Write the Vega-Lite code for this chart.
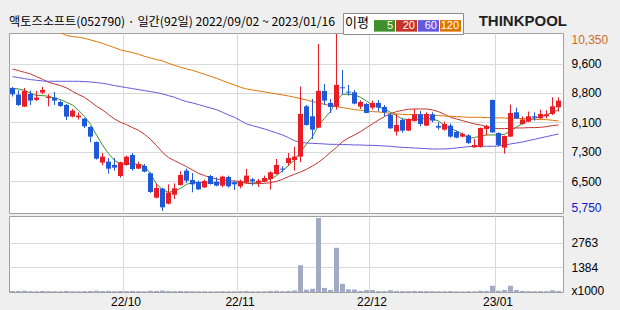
{
"$schema": "https://vega.github.io/schema/vega-lite/v6.json",
"background": "#efefef",
"padding": {"left": 8, "top": 12, "right": 12, "bottom": 4},
"spacing": 0,
"title": {"text": "THINKPOOL", "anchor": "end", "frame": "group", "font": "Liberation Sans", "fontSize": 15, "fontWeight": "bold", "color": "#1f1f1f", "offset": -16, "dx": 4},
"config": {
  "view": {"fill": "#ffffff", "stroke": "#a0a0a0"},
  "axis": {"labelFont": "Liberation Sans", "labelFontSize": 12, "labelColor": "#000000", "domain": false, "ticks": false, "gridColor": "#d9d9d9", "gridOpacity": 1, "title": null, "labelOverlap": false, "labelFlush": false, "labelBound": false, "labelSeparation": 0}
},
"resolve": {"scale": {"x": "independent", "y": "independent"}},
"datasets": {"d": [
{"d":"2022-09-02","o":8948,"h":8974,"l":8723,"c":8783,"vol":60,"ma5":8939,"ma20":9442,"ma60":9243},
{"d":"2022-09-05","o":8775,"h":8887,"l":8480,"c":8506,"vol":55,"ma5":8922,"ma20":9399,"ma60":9217},
{"d":"2022-09-06","o":8463,"h":8948,"l":8455,"c":8870,"vol":70,"ma5":8887,"ma20":9355,"ma60":9191},
{"d":"2022-09-07","o":8792,"h":8879,"l":8506,"c":8619,"vol":50,"ma5":8818,"ma20":9312,"ma60":9165},
{"d":"2022-09-08","o":8636,"h":8870,"l":8610,"c":8697,"vol":45,"ma5":8749,"ma20":9243,"ma60":9147},
{"d":"2022-09-13","o":8827,"h":8974,"l":8783,"c":8896,"vol":55,"ma5":8749,"ma20":9173,"ma60":9130},
{"d":"2022-09-14","o":8688,"h":8783,"l":8471,"c":8714,"vol":50,"ma5":8731,"ma20":9095,"ma60":9121},
{"d":"2022-09-15","o":8697,"h":8844,"l":8506,"c":8619,"vol":45,"ma5":8688,"ma20":9052,"ma60":9121},
{"d":"2022-09-16","o":8584,"h":8627,"l":8454,"c":8480,"vol":40,"ma5":8645,"ma20":9009,"ma60":9121,"ma120":10385},
{"d":"2022-09-19","o":8506,"h":8532,"l":8116,"c":8203,"vol":60,"ma5":8575,"ma20":8948,"ma60":9121,"ma120":10309},
{"d":"2022-09-20","o":8203,"h":8402,"l":8185,"c":8359,"vol":45,"ma5":8506,"ma20":8861,"ma60":9121,"ma120":10283},
{"d":"2022-09-21","o":8185,"h":8315,"l":8125,"c":8229,"vol":40,"ma5":8367,"ma20":8775,"ma60":9121,"ma120":10265},
{"d":"2022-09-22","o":8151,"h":8168,"l":7908,"c":7951,"vol":50,"ma5":8211,"ma20":8705,"ma60":9113,"ma120":10239},
{"d":"2022-09-23","o":7934,"h":7951,"l":7535,"c":7683,"vol":60,"ma5":8003,"ma20":8593,"ma60":9104,"ma120":10196},
{"d":"2022-09-26","o":7544,"h":7561,"l":7085,"c":7111,"vol":75,"ma5":7726,"ma20":8471,"ma60":9087,"ma120":10153},
{"d":"2022-09-27","o":7007,"h":7258,"l":6937,"c":7163,"vol":55,"ma5":7466,"ma20":8376,"ma60":9069,"ma120":10109},
{"d":"2022-09-28","o":7033,"h":7128,"l":6721,"c":6850,"vol":60,"ma5":7241,"ma20":8255,"ma60":9043,"ma120":10049},
{"d":"2022-09-29","o":6946,"h":7128,"l":6799,"c":6877,"vol":45,"ma5":7067,"ma20":8142,"ma60":9009,"ma120":9997},
{"d":"2022-09-30","o":6660,"h":7033,"l":6617,"c":7015,"vol":55,"ma5":6972,"ma20":8055,"ma60":8983,"ma120":9936},
{"d":"2022-10-04","o":6946,"h":7189,"l":6928,"c":7163,"vol":50,"ma5":6980,"ma20":7995,"ma60":8957,"ma120":9901},
{"d":"2022-10-05","o":7206,"h":7258,"l":6799,"c":6842,"vol":60,"ma5":6972,"ma20":7917,"ma60":8931,"ma120":9867},
{"d":"2022-10-06","o":6851,"h":7033,"l":6842,"c":6963,"vol":45,"ma5":6963,"ma20":7847,"ma60":8905,"ma120":9823},
{"d":"2022-10-07","o":6920,"h":6972,"l":6755,"c":6773,"vol":40,"ma5":6929,"ma20":7743,"ma60":8879,"ma120":9771},
{"d":"2022-10-11","o":6729,"h":6755,"l":6218,"c":6244,"vol":70,"ma5":6712,"ma20":7613,"ma60":8853,"ma120":9728},
{"d":"2022-10-12","o":6096,"h":6452,"l":6079,"c":6348,"vol":60,"ma5":6452,"ma20":7449,"ma60":8827,"ma120":9685},
{"d":"2022-10-13","o":6331,"h":6357,"l":5750,"c":5845,"vol":80,"ma5":6305,"ma20":7275,"ma60":8792,"ma120":9650},
{"d":"2022-10-14","o":5940,"h":6443,"l":5923,"c":6227,"vol":55,"ma5":6235,"ma20":7137,"ma60":8749,"ma120":9589},
{"d":"2022-10-17","o":6174,"h":6469,"l":6062,"c":6339,"vol":45,"ma5":6270,"ma20":7059,"ma60":8705,"ma120":9537},
{"d":"2022-10-18","o":6426,"h":6781,"l":6409,"c":6686,"vol":60,"ma5":6339,"ma20":6981,"ma60":8645,"ma120":9485},
{"d":"2022-10-19","o":6799,"h":6851,"l":6478,"c":6539,"vol":50,"ma5":6443,"ma20":6903,"ma60":8593,"ma120":9442},
{"d":"2022-10-20","o":6556,"h":6738,"l":6235,"c":6443,"vol":45,"ma5":6486,"ma20":6816,"ma60":8558,"ma120":9407},
{"d":"2022-10-21","o":6504,"h":6539,"l":6296,"c":6313,"vol":40,"ma5":6495,"ma20":6729,"ma60":8515,"ma120":9355},
{"d":"2022-10-24","o":6365,"h":6565,"l":6348,"c":6530,"vol":45,"ma5":6486,"ma20":6669,"ma60":8471,"ma120":9303},
{"d":"2022-10-25","o":6660,"h":6686,"l":6435,"c":6452,"vol":40,"ma5":6478,"ma20":6625,"ma60":8428,"ma120":9251},
{"d":"2022-10-26","o":6513,"h":6625,"l":6391,"c":6409,"vol":40,"ma5":6478,"ma20":6582,"ma60":8385,"ma120":9199},
{"d":"2022-10-27","o":6409,"h":6669,"l":6365,"c":6643,"vol":45,"ma5":6478,"ma20":6556,"ma60":8315,"ma120":9139},
{"d":"2022-10-28","o":6634,"h":6669,"l":6357,"c":6391,"vol":40,"ma5":6478,"ma20":6539,"ma60":8246,"ma120":9078},
{"d":"2022-10-31","o":6495,"h":6539,"l":6296,"c":6443,"vol":40,"ma5":6478,"ma20":6530,"ma60":8185,"ma120":9026},
{"d":"2022-11-01","o":6391,"h":6565,"l":6339,"c":6521,"vol":45,"ma5":6495,"ma20":6521,"ma60":8099,"ma120":8965},
{"d":"2022-11-02","o":6495,"h":6842,"l":6478,"c":6669,"vol":55,"ma5":6478,"ma20":6469,"ma60":8012,"ma120":8922},
{"d":"2022-11-03","o":6573,"h":6608,"l":6409,"c":6521,"vol":40,"ma5":6478,"ma20":6461,"ma60":7969,"ma120":8896},
{"d":"2022-11-04","o":6486,"h":6582,"l":6374,"c":6539,"vol":40,"ma5":6495,"ma20":6461,"ma60":7925,"ma120":8870},
{"d":"2022-11-07","o":6513,"h":6669,"l":6495,"c":6608,"vol":45,"ma5":6530,"ma20":6469,"ma60":7882,"ma120":8844},
{"d":"2022-11-08","o":6582,"h":6781,"l":6305,"c":6755,"vol":60,"ma5":6582,"ma20":6486,"ma60":7830,"ma120":8818},
{"d":"2022-11-09","o":6712,"h":7102,"l":6695,"c":6946,"vol":70,"ma5":6669,"ma20":6521,"ma60":7778,"ma120":8792},
{"d":"2022-11-10","o":6851,"h":6911,"l":6755,"c":6825,"vol":45,"ma5":6799,"ma20":6573,"ma60":7726,"ma120":8766},
{"d":"2022-11-11","o":6998,"h":7258,"l":6928,"c":7128,"vol":60,"ma5":6929,"ma20":6643,"ma60":7657,"ma120":8740},
{"d":"2022-11-14","o":7076,"h":7423,"l":6799,"c":7163,"vol":90,"ma5":7076,"ma20":6703,"ma60":7579,"ma120":8705},
{"d":"2022-11-15","o":7163,"h":8983,"l":7015,"c":8272,"vol":1500,"ma5":7275,"ma20":6764,"ma60":7535,"ma120":8671},
{"d":"2022-11-16","o":8471,"h":8506,"l":7969,"c":7986,"vol":130,"ma5":7492,"ma20":6833,"ma60":7518,"ma120":8636},
{"d":"2022-11-17","o":8211,"h":8662,"l":7622,"c":7865,"vol":180,"ma5":7683,"ma20":6920,"ma60":7509,"ma120":8593},
{"d":"2022-11-18","o":7917,"h":10092,"l":7908,"c":8870,"vol":4150,"ma5":7969,"ma20":7015,"ma60":7501,"ma120":8558},
{"d":"2022-11-21","o":8870,"h":9052,"l":8506,"c":8619,"vol":230,"ma5":8159,"ma20":7137,"ma60":7492,"ma120":8523},
{"d":"2022-11-22","o":8558,"h":8662,"l":8298,"c":8454,"vol":120,"ma5":8333,"ma20":7275,"ma60":7483,"ma120":8489},
{"d":"2022-11-23","o":8463,"h":10350,"l":8385,"c":9026,"vol":2480,"ma5":8619,"ma20":7405,"ma60":7483,"ma120":8463},
{"d":"2022-11-24","o":8965,"h":9416,"l":8783,"c":8939,"vol":460,"ma5":8783,"ma20":7553,"ma60":7475,"ma120":8437},
{"d":"2022-11-25","o":8853,"h":9026,"l":8749,"c":8827,"vol":150,"ma5":8783,"ma20":7648,"ma60":7475,"ma120":8411},
{"d":"2022-11-28","o":8835,"h":8896,"l":8523,"c":8541,"vol":140,"ma5":8766,"ma20":7726,"ma60":7466,"ma120":8385},
{"d":"2022-11-29","o":8463,"h":8627,"l":8402,"c":8584,"vol":60,"ma5":8705,"ma20":7813,"ma60":7466,"ma120":8367},
{"d":"2022-11-30","o":8532,"h":8558,"l":8289,"c":8298,"vol":110,"ma5":8610,"ma20":7917,"ma60":7457,"ma120":8350},
{"d":"2022-12-01","o":8437,"h":8619,"l":8385,"c":8558,"vol":110,"ma5":8506,"ma20":8012,"ma60":7457,"ma120":8333},
{"d":"2022-12-02","o":8558,"h":8636,"l":8333,"c":8437,"vol":50,"ma5":8454,"ma20":8116,"ma60":7449,"ma120":8324},
{"d":"2022-12-05","o":8454,"h":8506,"l":8211,"c":8315,"vol":50,"ma5":8402,"ma20":8203,"ma60":7440,"ma120":8307},
{"d":"2022-12-06","o":8255,"h":8298,"l":7882,"c":7899,"vol":100,"ma5":8315,"ma20":8281,"ma60":7431,"ma120":8289},
{"d":"2022-12-07","o":7813,"h":8272,"l":7709,"c":7986,"vol":60,"ma5":8229,"ma20":8333,"ma60":7414,"ma120":8272},
{"d":"2022-12-08","o":8116,"h":8159,"l":7787,"c":7839,"vol":50,"ma5":8142,"ma20":8367,"ma60":7405,"ma120":8263},
{"d":"2022-12-09","o":7839,"h":8159,"l":7830,"c":8142,"vol":50,"ma5":8125,"ma20":8393,"ma60":7397,"ma120":8255},
{"d":"2022-12-12","o":8090,"h":8402,"l":8073,"c":8263,"vol":60,"ma5":8125,"ma20":8402,"ma60":7388,"ma120":8255},
{"d":"2022-12-13","o":8263,"h":8350,"l":7951,"c":8012,"vol":55,"ma5":8142,"ma20":8402,"ma60":7379,"ma120":8246},
{"d":"2022-12-14","o":7969,"h":8315,"l":7960,"c":8272,"vol":50,"ma5":8159,"ma20":8402,"ma60":7371,"ma120":8246},
{"d":"2022-12-15","o":8263,"h":8315,"l":8056,"c":8099,"vol":50,"ma5":8142,"ma20":8376,"ma60":7362,"ma120":8237},
{"d":"2022-12-16","o":7960,"h":8056,"l":7865,"c":7917,"vol":40,"ma5":8090,"ma20":8333,"ma60":7362,"ma120":8229},
{"d":"2022-12-19","o":7865,"h":8073,"l":7839,"c":8012,"vol":40,"ma5":7969,"ma20":8263,"ma60":7362,"ma120":8220},
{"d":"2022-12-20","o":7969,"h":8021,"l":7657,"c":7683,"vol":50,"ma5":7899,"ma20":8185,"ma60":7371,"ma120":8211},
{"d":"2022-12-21","o":7804,"h":7839,"l":7639,"c":7657,"vol":40,"ma5":7830,"ma20":8142,"ma60":7388,"ma120":8203},
{"d":"2022-12-22","o":7683,"h":7787,"l":7665,"c":7752,"vol":35,"ma5":7752,"ma20":8099,"ma60":7405,"ma120":8194},
{"d":"2022-12-23","o":7717,"h":7743,"l":7492,"c":7518,"vol":45,"ma5":7639,"ma20":8056,"ma60":7423,"ma120":8185},
{"d":"2022-12-26","o":7405,"h":7622,"l":7397,"c":7466,"vol":40,"ma5":7657,"ma20":8012,"ma60":7431,"ma120":8185},
{"d":"2022-12-27","o":7414,"h":7917,"l":7397,"c":7908,"vol":70,"ma5":7700,"ma20":7986,"ma60":7431,"ma120":8185},
{"d":"2022-12-28","o":7882,"h":7986,"l":7709,"c":7960,"vol":60,"ma5":7726,"ma20":7943,"ma60":7431,"ma120":8177},
{"d":"2022-12-29","o":8636,"h":8645,"l":7778,"c":7795,"vol":350,"ma5":7726,"ma20":7908,"ma60":7431,"ma120":8177},
{"d":"2023-01-02","o":7778,"h":7795,"l":7431,"c":7466,"vol":70,"ma5":7726,"ma20":7891,"ma60":7440,"ma120":8168},
{"d":"2023-01-03","o":7397,"h":7709,"l":7240,"c":7700,"vol":110,"ma5":7743,"ma20":7891,"ma60":7466,"ma120":8168},
{"d":"2023-01-04","o":7683,"h":8515,"l":7674,"c":8298,"vol":350,"ma5":7830,"ma20":7899,"ma60":7492,"ma120":8159},
{"d":"2023-01-05","o":8315,"h":8437,"l":8142,"c":8159,"vol":110,"ma5":7934,"ma20":7908,"ma60":7518,"ma120":8159},
{"d":"2023-01-06","o":8012,"h":8211,"l":7995,"c":8125,"vol":60,"ma5":8021,"ma20":7908,"ma60":7544,"ma120":8151},
{"d":"2023-01-09","o":8073,"h":8333,"l":8056,"c":8211,"vol":50,"ma5":8099,"ma20":7917,"ma60":7579,"ma120":8142},
{"d":"2023-01-10","o":8211,"h":8315,"l":8099,"c":8177,"vol":45,"ma5":8159,"ma20":7917,"ma60":7613,"ma120":8133},
{"d":"2023-01-11","o":8159,"h":8385,"l":8142,"c":8272,"vol":50,"ma5":8203,"ma20":7925,"ma60":7648,"ma120":8125},
{"d":"2023-01-12","o":8211,"h":8367,"l":8159,"c":8263,"vol":45,"ma5":8246,"ma20":7943,"ma60":7683,"ma120":8125},
{"d":"2023-01-13","o":8272,"h":8705,"l":8246,"c":8471,"vol":100,"ma5":8315,"ma20":7969,"ma60":7717,"ma120":8107},
{"d":"2023-01-16","o":8445,"h":8705,"l":8333,"c":8619,"vol":60,"ma5":8376,"ma20":7986,"ma60":7752,"ma120":8090}
]},
"vconcat": [
{
  "width": 554, "height": 180,
  "title": {"text": "액토즈소프트(052790) · 일간(92일) 2022/09/02 ~ 2023/01/16", "anchor": "start", "frame": "group", "font": "Noto Sans CJK KR", "fontSize": 12.2, "fontWeight": "normal", "color": "#000000", "offset": 5},
  "data": {"name": "d"},
  "resolve": {"axis": {"y": "independent"}},
  "encoding": {
    "x": {"field": "d", "type": "ordinal", "sort": "ascending",
      "scale": {"type": "band", "paddingInner": 0, "paddingOuter": 0.167, "align": 0},
      "axis": {"values": ["2022-10-04", "2022-11-01", "2022-12-01", "2023-01-02"], "labels": false, "grid": true, "bandPosition": 0.0833}}
  },
  "layer": [
    {
      "transform": [{"fold": ["ma5", "ma20", "ma60", "ma120"], "as": ["ma", "v"]}],
      "mark": {"type": "line", "strokeWidth": 1, "clip": true, "xOffset": 0.5},
      "encoding": {
        "y": {"field": "v", "type": "quantitative",
          "scale": {"domain": [5698, 10376], "nice": false, "zero": false},
          "axis": {"orient": "right", "labelPadding": 8, "labelOverlap": false, "grid": true,
            "values": [6516.667, 7283.333, 8050, 8816.667, 9583.333],
            "labelExpr": "format(round(datum.value / 100) * 100, ',')"}},
        "stroke": {"field": "ma", "type": "nominal",
          "scale": {"domain": ["ma120", "ma60", "ma20", "ma5"], "range": ["#e07400", "#6458dc", "#c4342c", "#3c8f28"]},
          "legend": null}
      }
    },
    {
      "transform": [{"fold": ["ma5", "ma20", "ma60", "ma120"], "as": ["period", "pv"]}],
      "mark": {"type": "square", "size": 0, "clip": true},
      "encoding": {
        "y": {"field": "pv", "type": "quantitative", "axis": null},
        "fill": {"field": "period", "type": "nominal",
          "scale": {"domain": ["ma5", "ma20", "ma60", "ma120"], "range": ["#3f8f2c", "#c4342c", "#6458dc", "#e07400"]},
          "legend": {"title": "이평", "orient": "none", "legendX": 334, "legendY": -20, "direction": "horizontal",
            "titleOrient": "left", "titleFont": "Noto Sans CJK KR", "titleFontSize": 13, "titleFontWeight": "normal", "titleColor": "#000000", "titlePadding": 5,
            "symbolType": "M-1,-0.55H1V0.55H-1Z", "symbolSize": 441, "symbolStrokeWidth": 0, "symbolOpacity": 1,
            "labelExpr": "replace(datum.label, 'ma', '')", "labelFont": "Liberation Sans", "labelFontSize": 11, "labelColor": "#ffffff", "labelAlign": "right", "labelOffset": -2,
            "columnPadding": 1, "strokeColor": "#8c8c8c", "fillColor": "#ffffff", "padding": 2}}
      }
    },
    {
      "mark": {"type": "rule", "strokeWidth": 1, "xOffset": 0.5},
      "encoding": {
        "y": {"field": "l", "type": "quantitative",
          "axis": {"orient": "right", "labelPadding": 8, "grid": false, "values": [10350], "labelExpr": "format(datum.value, ',')", "labelColor": "#d2691e", "labelOffset": 5}},
        "y2": {"field": "h"},
        "color": {"condition": {"test": "datum.c >= datum.o", "value": "#ea1c24"}, "value": "#1e5ad8"}
      }
    },
    {
      "mark": {"type": "bar", "size": 5, "xOffset": 0.5},
      "encoding": {
        "y": {"field": "o", "type": "quantitative",
          "axis": {"orient": "right", "labelPadding": 8, "grid": false, "values": [5750], "labelExpr": "format(datum.value, ',')", "labelColor": "#1414c8", "labelOffset": -3}},
        "y2": {"field": "c"},
        "color": {"condition": {"test": "datum.c >= datum.o", "value": "#ea1c24"}, "value": "#1e5ad8"}
      }
    }
  ]
},
{
  "width": 554, "height": 76,
  "data": {"name": "d"},
  "mark": {"type": "bar", "size": 5, "xOffset": 0.5, "color": "#a2abc4"},
  "encoding": {
    "x": {"field": "d", "type": "ordinal", "sort": "ascending",
      "scale": {"type": "band", "paddingInner": 0, "paddingOuter": 0.167, "align": 0},
      "axis": {"values": ["2022-10-04", "2022-11-01", "2022-12-01", "2023-01-02"], "grid": true, "bandPosition": 0.0833, "labelAngle": 0, "labelPadding": 4,
        "labelExpr": "substring(datum.value, 2, 4) + '/' + substring(datum.value, 5, 7)"}},
    "y": {"field": "vol", "type": "quantitative",
      "scale": {"domain": [0, 4262], "nice": false},
      "axis": {"orient": "right", "labelPadding": 8, "values": [0, 1384, 2763], "labelOverlap": false,
        "labelExpr": "datum.value == 0 ? 'x1000' : '' + datum.value",
        "gridColor": {"condition": {"test": "datum.value == 0", "value": "transparent"}, "value": "#d9d9d9"},
        "labelOffset": {"condition": {"test": "datum.value == 0", "value": -2}, "value": 0}}}
  }
}
]
}
